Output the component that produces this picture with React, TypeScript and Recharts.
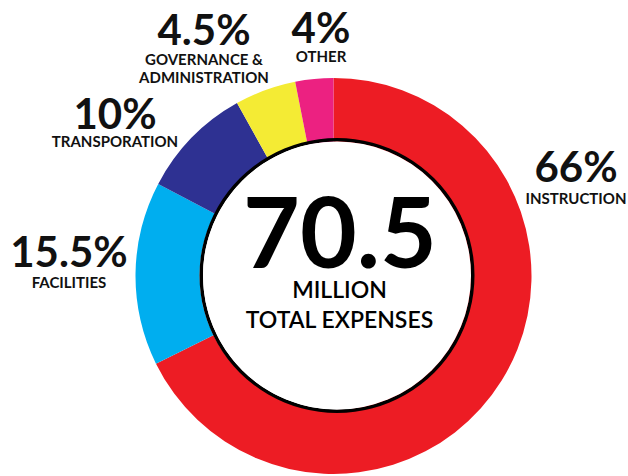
import React from 'react';
import { PieChart, Pie, Cell } from 'recharts';

// slice sizes as drawn (the artwork's arcs are a bit off from the printed %)
const categories = ['INSTRUCTION', 'FACILITIES', 'TRANSPORATION', 'GOVERNANCE & ADMINISTRATION', 'OTHER'];
const sliceValues = [67.7, 15.0, 9.2, 5.0, 3.1];
const percentLabels = ['66%', '15.5%', '10%', '4.5%', '4%'];
const nameLines = [['INSTRUCTION'], ['FACILITIES'], ['TRANSPORATION'], ['GOVERNANCE &', 'ADMINISTRATION'], ['OTHER']];
const colors = ['#ED1C24', '#00AEEF', '#2E3192', '#F4EB34', '#EC2181'];

const totalValue = '70.5';
const totalLines = ['MILLION', 'TOTAL EXPENSES'];

// where each label sits (x center, baseline of the big % text, gap to the name)
const labelPos = [
  { x: 576, y: 182, dy: 22 },
  { x: 69, y: 267, dy: 21 },
  { x: 115, y: 129, dy: 18 },
  { x: 204, y: 45, dy: 20 },
  { x: 321, y: 43, dy: 19 },
];

const W = 628;
const H = 476;
const font = 'Lato, "Open Sans", sans-serif';

const data = categories.map((name, i) => ({ name, value: sliceValues[i] }));
const ring = [{ name: 'ring', value: 1 }];

export default function App() {
  return (
    <div style={{ position: 'absolute', left: 0, top: 0, width: W, height: H, background: '#fff' }}>
      <PieChart width={W} height={H} margin={{ top: 0, right: 0, bottom: 0, left: 0 }}>
        <Pie
          data={data}
          dataKey="value"
          cx={333.5}
          cy={276}
          innerRadius={134}
          outerRadius={198}
          startAngle={90}
          endAngle={-270}
          stroke="none"
          isAnimationActive={false}
        >
          {data.map((d, i) => (
            <Cell key={d.name} fill={colors[i]} />
          ))}
        </Pie>
        <Pie
          data={ring}
          dataKey="value"
          cx={337}
          cy={275.5}
          innerRadius={134}
          outerRadius={137.5}
          startAngle={90}
          endAngle={-270}
          stroke="none"
          fill="#000"
          isAnimationActive={false}
        />
      </PieChart>
      <svg
        width={W}
        height={H}
        style={{ position: 'absolute', left: 0, top: 0, pointerEvents: 'none' }}
        fontFamily={font}
        fontWeight={700}
      >
        <circle cx={337} cy={275.5} r={134} fill="#fff" />
        {percentLabels.map((p, i) => (
          <g key={p} textAnchor="middle" fill="#111">
            <text x={labelPos[i].x} y={labelPos[i].y} fontSize={42}>
              {p}
            </text>
            {nameLines[i].map((line, j) => (
              <text key={line} x={labelPos[i].x} y={labelPos[i].y + labelPos[i].dy + j * 18} fontSize={15}>
                {line}
              </text>
            ))}
          </g>
        ))}
        <g textAnchor="middle" fill="#000">
          <text x={340} y={268} fontSize={98}>
            {totalValue}
          </text>
          {totalLines.map((line, j) => (
            <text key={line} x={339.5} y={298 + j * 30} fontSize={23} fontWeight={600}>
              {line}
            </text>
          ))}
        </g>
      </svg>
    </div>
  );
}
